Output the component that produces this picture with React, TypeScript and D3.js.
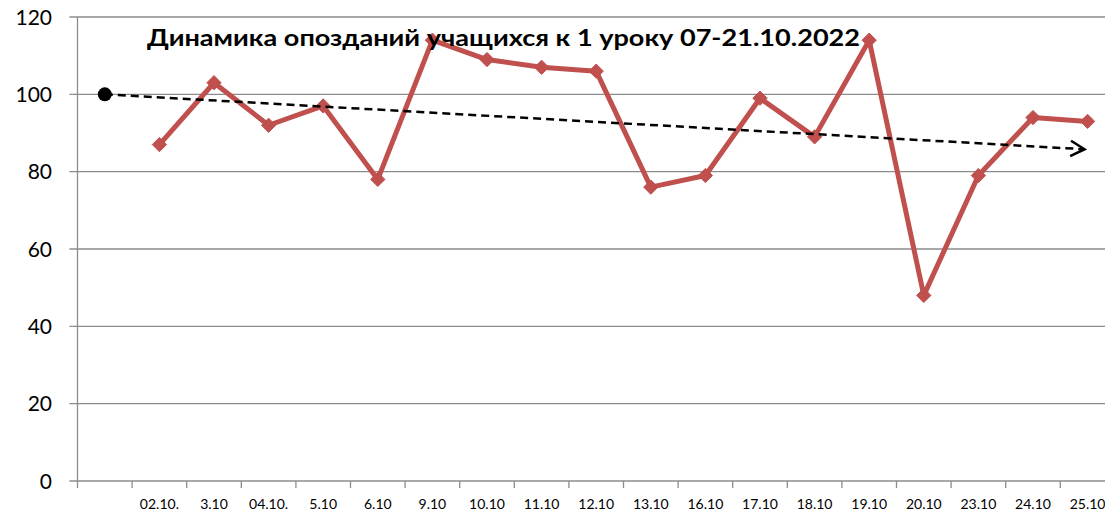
import { useEffect, useRef } from "react";
import * as d3 from "d3";

const translate = (x: number, y: number): string => `translate(${x},${y})`;

// first category is an empty slot (holds the trend start point)
const categories = [
  "", "02.10.", "3.10", "04.10.", "5.10", "6.10", "9.10", "10.10", "11.10", "12.10",
  "13.10", "16.10", "17.10", "18.10", "19.10", "20.10", "23.10", "24.10", "25.10",
];
const lateValues = [
  null, 87, 103, 92, 97, 78, 114, 109, 107, 106, 76, 79, 99, 89, 114, 48, 79, 94, 93,
];
const yTicks = [0, 20, 40, 60, 80, 100, 120];
// hand drawn trend arrow: start / end
const trendPoints = [
  { idx: 0, value: 100 },
  { idx: 18, value: 85.8 },
];
const title = "Динамика опозданий учащихся к 1 уроку 07-21.10.2022";

const W = 1105;
const H = 513;

const App = (): JSX.Element => {
  const svgRef = useRef<SVGSVGElement | null>(null);

  useEffect(() => {
    if (!svgRef.current) return;
    const svg = d3.select(svgRef.current);
    svg.selectAll("*").remove();

    const left = 77.5;
    const step = 54.6;
    const top = 17;
    const bottom = 481;

    const x = d3
      .scaleBand<string>()
      .domain(categories.map((_, i) => String(i)))
      .range([left, left + step * categories.length])
      .padding(0);
    const cx = (i: number) => (x(String(i)) || 0) + x.bandwidth() / 2;

    const y = d3.scaleLinear().domain([0, 120]).range([bottom, top]);

    const gridColor = "#8c8c8c";
    const font = "Lato, 'Noto Sans', sans-serif";

    // horizontal gridlines + y ticks
    svg
      .append("g")
      .selectAll("line")
      .data(yTicks)
      .enter()
      .append("line")
      .attr("x1", left - 8)
      .attr("x2", W)
      .attr("y1", (d) => y(d))
      .attr("y2", (d) => y(d))
      .attr("stroke", gridColor)
      .attr("stroke-width", 1.3);

    svg
      .append("g")
      .selectAll("text")
      .data(yTicks)
      .enter()
      .append("text")
      .attr("x", 52)
      .attr("y", (d) => y(d))
      .attr("dy", "0.36em")
      .attr("text-anchor", "end")
      .attr("font-family", font)
      .attr("font-size", 21)
      .attr("fill", "#000")
      .text((d) => d);

    // y axis line
    svg
      .append("line")
      .attr("x1", left)
      .attr("x2", left)
      .attr("y1", top)
      .attr("y2", bottom)
      .attr("stroke", gridColor)
      .attr("stroke-width", 1.3);

    // x ticks at band boundaries
    const boundaries = d3.range(categories.length + 1).map((i) => left + i * step);
    svg
      .append("g")
      .selectAll("line")
      .data(boundaries)
      .enter()
      .append("line")
      .attr("x1", (d) => d)
      .attr("x2", (d) => d)
      .attr("y1", bottom)
      .attr("y2", bottom + 7)
      .attr("stroke", gridColor)
      .attr("stroke-width", 1.3);

    svg
      .append("g")
      .selectAll("text")
      .data(categories)
      .enter()
      .append("text")
      .attr("x", (_, i) => cx(i))
      .attr("y", 509)
      .attr("text-anchor", "middle")
      .attr("font-family", font)
      .attr("font-size", 14)
      .attr("fill", "#000")
      .text((d) => d);

    // data line
    const pts = lateValues
      .map((v, i) => ({ i, v }))
      .filter((d) => d.v !== null) as { i: number; v: number }[];

    const line = d3
      .line<{ i: number; v: number }>()
      .x((d) => cx(d.i))
      .y((d) => y(d.v));

    const red = "#c0504d";
    svg
      .append("path")
      .datum(pts)
      .attr("d", line)
      .attr("fill", "none")
      .attr("stroke", red)
      .attr("stroke-width", 5)
      .attr("stroke-linejoin", "round");

    svg
      .append("g")
      .selectAll("path")
      .data(pts)
      .enter()
      .append("path")
      .attr("d", d3.symbol().type(d3.symbolDiamond2).size(130))
      .attr("transform", (d) => translate(cx(d.i), y(d.v)))
      .attr("fill", red)
      .attr("stroke", red)
      .attr("stroke-width", 1);

    // trend arrow
    const [p0, p1] = trendPoints;
    const x0 = cx(p0.idx);
    const y0 = y(p0.value);
    const x1 = cx(p1.idx) - 3;
    const y1 = y(p1.value);
    svg
      .append("line")
      .attr("x1", x0)
      .attr("y1", y0)
      .attr("x2", x1)
      .attr("y2", y1)
      .attr("stroke", "#000")
      .attr("stroke-width", 2.5)
      .attr("stroke-dasharray", "8,5");

    const ang = Math.atan2(y1 - y0, x1 - x0);
    const headLen = 16;
    const spread = 0.5;
    const head = d3.path();
    head.moveTo(x1 - headLen * Math.cos(ang - spread), y1 - headLen * Math.sin(ang - spread));
    head.lineTo(x1, y1);
    head.lineTo(x1 - headLen * Math.cos(ang + spread), y1 - headLen * Math.sin(ang + spread));
    svg
      .append("path")
      .attr("d", head.toString())
      .attr("fill", "none")
      .attr("stroke", "#000")
      .attr("stroke-width", 2.5);

    svg
      .append("circle")
      .attr("cx", x0)
      .attr("cy", y0)
      .attr("r", 7)
      .attr("fill", "#000");

    // title
    svg
      .append("text")
      .attr("x", 147)
      .attr("y", 46)
      .attr("font-family", font)
      .attr("font-weight", "bold")
      .attr("font-size", 23)
      .attr("textLength", 713)
      .attr("lengthAdjust", "spacingAndGlyphs")
      .attr("fill", "#000")
      .text(title);
  }, []);

  return (
    <div style={{ position: "fixed", left: 0, top: 0, width: W, height: H, background: "#fff" }}>
      <svg ref={svgRef} width={W} height={H} style={{ display: "block" }} />
    </div>
  );
};

export default App;
